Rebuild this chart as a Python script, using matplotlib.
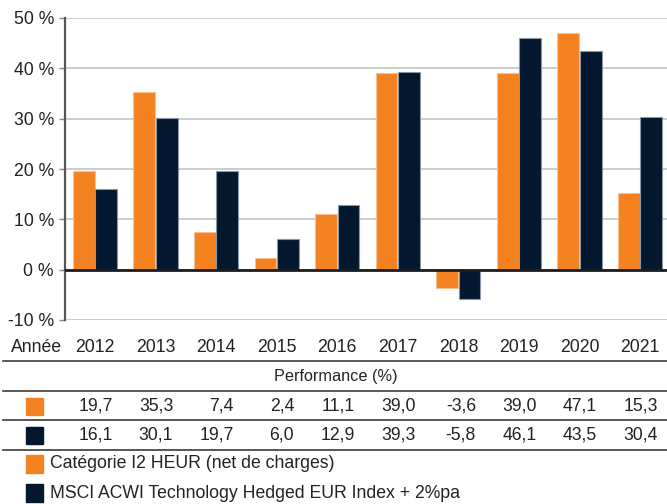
import matplotlib
matplotlib.use("Agg")
import matplotlib.pyplot as plt
import matplotlib.transforms as mtransforms
from matplotlib.patches import Rectangle
import numpy as np

years = ["2012", "2013", "2014", "2015", "2016", "2017", "2018", "2019", "2020", "2021"]
fund = [19.7, 35.3, 7.4, 2.4, 11.1, 39.0, -3.6, 39.0, 47.1, 15.3]
index = [16.1, 30.1, 19.7, 6.0, 12.9, 39.3, -5.8, 46.1, 43.5, 30.4]
yticks = [-10, 0, 10, 20, 30, 40, 50]
fund_label = "Catégorie I2 HEUR (net de charges)"
index_label = "MSCI ACWI Technology Hedged EUR Index + 2%pa"
row_title = "Performance (%)"
year_title = "Année"

ORANGE = "#F58220"
NAVY = "#03172E"

plt.rcParams['font.family'] = ['Liberation Sans', 'DejaVu Sans']
FS = 12.7

W, H = 667, 504
fig = plt.figure(figsize=(W / 100, H / 100), dpi=100)
ax = fig.add_axes([65 / W, 1 - 320 / H, 1 - 65 / W, (320 - 18) / H])

x = np.arange(len(years))
bw = 0.36
off = 0.185
ax.bar(x - off, fund, bw, color=ORANGE, edgecolor="#F9C08F", linewidth=0.8, zorder=2)
ax.bar(x + off, index, bw, color=NAVY, edgecolor="#8A96A3", linewidth=0.8, zorder=2)

ax.set_xlim(-0.495, 9.446)
ax.set_ylim(-10, 50)
ax.set_yticks(yticks)
ax.set_yticklabels([f"{v} %" for v in yticks], fontsize=FS, color="#222222")
ax.set_xticks([])
ax.yaxis.grid(True, color="#c8c8c8", linewidth=1.3, zorder=0)
ax.set_axisbelow(True)
for s in ["top", "right", "bottom"]:
    ax.spines[s].set_visible(False)
ax.spines["left"].set_color("#555555")
ax.spines["left"].set_linewidth(1.6)
ax.tick_params(axis="y", length=4, width=1, color="#888888", pad=4)
ax.axhline(0, color="#1c1c1c", linewidth=2.0, zorder=3)

# table / legend below
tr = mtransforms.blended_transform_factory(ax.transData, fig.transFigure)

def fy(py):
    return 1 - py / H

fig.text(62 / W, fy(347), year_title, ha="right", va="center", fontsize=FS, color="#222222")
for i, yr in enumerate(years):
    ax.text(i, fy(347), yr, ha="center", va="center", fontsize=FS, color="#222222",
            transform=tr, clip_on=False)

for py in [361, 391, 420, 450]:
    fig.add_artist(plt.Line2D([3 / W, 1], [fy(py), fy(py)], color="#3a3a3a", linewidth=1.2))

fig.text(336 / W, fy(377), row_title, ha="center", va="center", fontsize=11.7, color="#222222")

for vals, py, col in [(fund, 406, ORANGE), (index, 435, NAVY)]:
    fig.add_artist(Rectangle((26 / W, fy(py + 8.5)), 17 / W, 17 / H, color=col,
                             transform=fig.transFigure))
    for i, v in enumerate(vals):
        ax.text(i + 0.29, fy(py), f"{v:.1f}".replace(".", ","), ha="right", va="center",
                fontsize=FS, color="#222222", transform=tr, clip_on=False)

for label, py, col in [(fund_label, 464, ORANGE), (index_label, 493, NAVY)]:
    fig.add_artist(Rectangle((26 / W, fy(py + 9)), 17 / W, 18 / H, color=col,
                             transform=fig.transFigure))
    fig.text(50 / W, fy(py), label, ha="left", va="center", fontsize=FS, color="#222222")

fig.savefig("out.png", dpi=100)
